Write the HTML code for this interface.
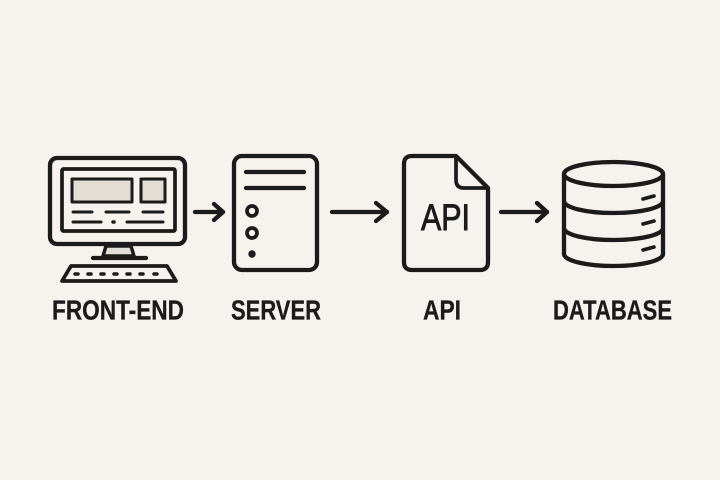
<!DOCTYPE html>
<html><head><meta charset="utf-8"><style>
html,body{margin:0;padding:0;background:#f6f3ee;}
svg{display:block;}
</style></head><body>
<svg width="720" height="480" viewBox="0 0 720 480" xmlns="http://www.w3.org/2000/svg">
<rect width="720" height="480" fill="#f6f3ee"/>
<g fill="none" stroke="#1b1b1b" stroke-width="4.3" stroke-linecap="round" stroke-linejoin="round">
  <!-- Monitor -->
  <rect x="50" y="158" width="135" height="86" rx="7"/>
  <rect x="62" y="169" width="113" height="62" rx="1.5" stroke-width="3.7"/>
  <rect x="72" y="179" width="60" height="23" fill="#e2ded6" stroke-width="3"/>
  <rect x="141" y="179" width="24" height="23" fill="#e2ded6" stroke-width="3"/>
  <line x1="73" y1="212" x2="92" y2="212" stroke-width="3"/>
  <line x1="106" y1="212" x2="129" y2="212" stroke-width="3"/>
  <line x1="143" y1="212" x2="163" y2="212" stroke-width="3"/>
  <line x1="73" y1="222" x2="101" y2="222" stroke-width="3"/>
  <line x1="113" y1="222" x2="114" y2="222" stroke-width="3.5"/>
  <line x1="127" y1="222" x2="163" y2="222" stroke-width="3"/>
  <path d="M106 246 L131 246 L134 256 L103 256 Z" fill="#e2ded6" stroke-width="3.5"/>
  <line x1="93" y1="258" x2="146" y2="258"/>
  <path d="M71 266 L167 266 L176 281 L62 281 Z" stroke-width="3.7"/>
  <g stroke-width="3.5">
    <line x1="75" y1="274" x2="78" y2="274"/>
    <line x1="88" y1="274" x2="91" y2="274"/>
    <line x1="101" y1="274" x2="104" y2="274"/>
    <line x1="114" y1="274" x2="117" y2="274"/>
    <line x1="127" y1="274" x2="130" y2="274"/>
    <line x1="140" y1="274" x2="143" y2="274"/>
    <line x1="154" y1="274" x2="157" y2="274"/>
  </g>
  <!-- Arrow 1 -->
  <line x1="195" y1="212" x2="223" y2="212"/>
  <polyline points="214,204 223,212 214,220"/>
  <!-- Server -->
  <rect x="234" y="156" width="83" height="114" rx="8"/>
  <line x1="246" y1="172" x2="304" y2="172"/>
  <line x1="246" y1="188" x2="304" y2="188"/>
  <circle cx="252" cy="211" r="5" stroke-width="3.7"/>
  <circle cx="252" cy="233" r="5" stroke-width="3.7"/>
  <circle cx="252" cy="254" r="3.7" fill="#1b1b1b" stroke="none"/>
  <!-- Arrow 2 -->
  <line x1="332" y1="212" x2="387" y2="212"/>
  <polyline points="376,203 387,212 376,221"/>
  <!-- API doc -->
  <path d="M412 156 L456 156 L488 188 L488 262 Q488 270 480 270 L412 270 Q404 270 404 262 L404 164 Q404 156 412 156 Z"/>
  <path d="M456 157 L456 180 Q456 188 464 188 L487 188" stroke-width="3.7"/>
  <!-- Arrow 3 -->
  <line x1="501" y1="212" x2="547" y2="212"/>
  <polyline points="537,203 547,212 537,221"/>
  <!-- Database -->
  <ellipse cx="613.5" cy="174" rx="49.5" ry="12"/>
  <line x1="564" y1="174" x2="564" y2="254"/>
  <line x1="663" y1="174" x2="663" y2="254"/>
  <path d="M564 201 A49.5 12 0 0 0 663 201"/>
  <path d="M564 228 A49.5 12 0 0 0 663 228"/>
  <path d="M564 254 A49.5 12 0 0 0 663 254"/>
  <line x1="643" y1="199" x2="654" y2="196" stroke-width="3.7"/>
  <line x1="643" y1="224" x2="654" y2="221" stroke-width="3.7"/>
  <line x1="643" y1="250" x2="654" y2="247" stroke-width="3.7"/>
</g>
<text x="421" y="230" font-family="Liberation Sans, sans-serif" font-size="37" fill="#1b1b1b" stroke="#1b1b1b" stroke-width="0.9" textLength="49" lengthAdjust="spacingAndGlyphs">API</text>
<g font-family="Liberation Sans, sans-serif" font-weight="bold" font-size="27.5" fill="#1b1b1b" stroke="#1b1b1b" stroke-width="0.3">
  <text x="52" y="319.5" textLength="132" lengthAdjust="spacingAndGlyphs">FRONT-END</text>
  <text x="231" y="319.5" textLength="90" lengthAdjust="spacingAndGlyphs">SERVER</text>
  <text x="423" y="319.5" textLength="38" lengthAdjust="spacingAndGlyphs">API</text>
  <text x="553" y="319.5" textLength="119" lengthAdjust="spacingAndGlyphs">DATABASE</text>
</g>
</svg>
</body></html>
